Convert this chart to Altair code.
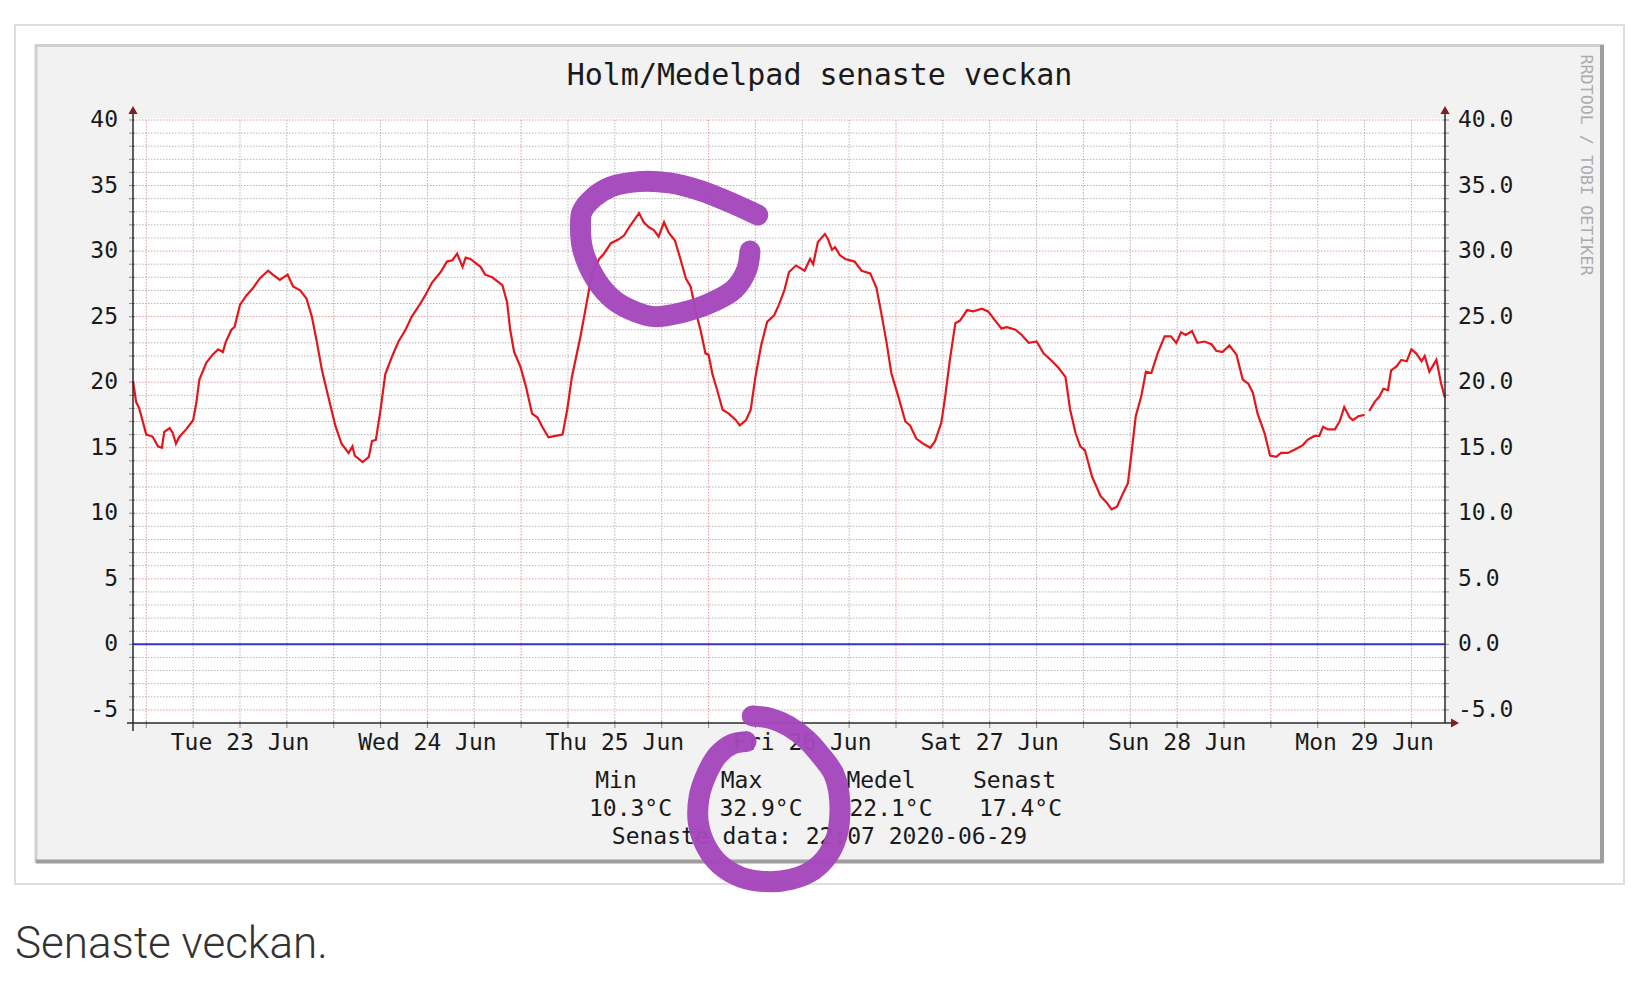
import altair as alt
import pandas as pd

# ---------------- data ----------------
TITLE = "Holm/Medelpad senaste veckan"
# hours counted from Tue 23 Jun 00:00; window Mon 22 Jun ~22:18 .. Mon 29 Jun ~22:18
T_START, T_END = -1.7, 166.3
Y_MIN, Y_MAX = -6, 40

HOURS = [
    -1.7, -1.3, -0.9, 0.0, 0.8, 1.5, 2.0, 2.3, 3.0, 3.4, 3.8, 4.2, 5.1, 6.0, 6.4, 6.8,
    7.7, 8.5, 9.2, 9.8, 10.2, 10.9, 11.3, 12.0, 12.8, 13.7, 14.5, 15.6, 16.2, 17.1, 18.1,
    18.8, 19.7, 20.5, 21.2, 21.8, 22.5, 23.1, 24.2, 25.0, 25.9, 26.4, 26.7, 27.7, 28.5,
    28.9, 29.4, 30.0, 30.6, 31.5, 32.3, 33.2, 34.0, 35.1, 35.7, 36.6, 37.7, 38.5, 39.2,
    39.8, 40.5, 40.9, 41.5, 42.8, 43.4, 44.3, 45.6, 46.2, 46.6, 47.1, 47.9, 48.6, 49.4,
    50.1, 50.7, 51.5, 52.4, 53.3, 53.9, 54.5, 55.6, 56.5, 57.1, 58.0, 58.6, 59.5, 60.5,
    61.2, 61.8, 62.4, 63.1, 63.7, 64.4, 65.0, 65.6, 66.3, 66.9, 67.7, 68.2, 69.1, 69.7,
    70.4, 71.0, 71.6, 72.0, 72.5, 73.1, 73.8, 74.6, 75.5, 76.0, 76.8, 77.4, 78.0, 78.7,
    79.5, 80.4, 81.0, 81.7, 82.3, 83.2, 84.3, 85.0, 85.4, 86.0, 86.9, 87.3, 87.8, 88.2,
    88.8, 89.5, 90.7, 91.6, 92.7, 93.5, 94.2, 94.8, 95.4, 96.3, 97.2, 97.8, 98.6, 99.5,
    100.4, 101.0, 101.8, 102.3, 102.9, 103.6, 104.2, 105.1, 105.9, 107.0, 107.8, 108.7,
    109.5, 110.2, 111.3, 112.1, 113.0, 114.0, 114.9, 116.0, 116.8, 117.7, 118.3, 119.0,
    119.6, 120.2, 121.1, 122.2, 123.0, 123.6, 124.3, 124.9, 125.7, 126.1, 126.7, 127.4,
    128.0, 128.7, 129.5, 130.4, 131.2, 131.9, 132.5, 133.1, 133.9, 134.6, 135.5, 136.4,
    137.0, 137.8, 138.7, 139.6, 140.4, 141.1, 141.7, 142.3, 143.2, 143.9, 144.7, 145.3,
    146.2, 147.2, 148.1, 148.7, 149.6, 150.2, 150.7, 151.3, 152.2, 152.8, 153.4, 154.1,
    154.5, 155.2, 156.0, 156.6, 157.3, 157.9, 158.4, 159.0, 159.4, 160.1, 160.7, 161.4,
    162.0, 162.6, 163.3, 163.7, 164.3, 165.2, 165.8, 166.3,
]
TEMPS = [
    20.1, 18.5, 18.0, 16.0, 15.85, 15.1, 15.0, 16.2, 16.5, 16.1, 15.3, 15.8, 16.4, 17.1, 18.4, 20.2,
    21.5, 22.1, 22.5, 22.3, 23.1, 24.0, 24.2, 25.9, 26.6, 27.2, 27.9, 28.5, 28.2, 27.8, 28.2,
    27.3, 27.0, 26.4, 25.0, 23.2, 20.9, 19.4, 16.7, 15.3, 14.6, 15.1, 14.4, 13.9, 14.3,
    15.5, 15.6, 17.9, 20.6, 22.0, 23.1, 24.0, 25.0, 26.0, 26.6, 27.6, 28.4, 29.2, 29.3,
    29.8, 28.8, 29.5, 29.4, 28.8, 28.2, 28.0, 27.4, 26.1, 24.0, 22.3, 21.2, 19.7, 17.6,
    17.3, 16.6, 15.8, 15.9, 16.0, 17.9, 20.4, 23.5, 26.4, 28.4, 29.4, 29.8, 30.6, 30.9,
    31.2, 31.8, 32.3, 32.9, 32.2, 31.8, 31.6, 31.1, 32.2, 31.4, 30.8, 29.8, 27.9, 27.3,
    25.3, 23.9, 22.2, 22.1, 20.6, 19.4, 17.9, 17.6, 17.1, 16.7, 17.1, 17.9, 20.4, 22.7,
    24.6, 25.1, 25.9, 27.0, 28.4, 28.9, 28.5, 29.4, 29.0, 30.7, 31.3, 30.9, 30.1, 30.3,
    29.7, 29.4, 29.2, 28.5, 28.3, 27.2, 25.0, 23.0, 20.7, 18.9, 17.0, 16.7, 15.7, 15.3,
    15.0, 15.5, 16.9, 18.9, 21.7, 24.5, 24.7, 25.5, 25.4, 25.6, 25.4, 24.7,
    24.1, 24.2, 24.0, 23.6, 23.0, 23.1, 22.2, 21.6, 21.1, 20.4, 17.9, 16.1,
    15.1, 14.8, 12.8, 11.3, 10.8, 10.3, 10.5, 11.3, 12.3, 14.3, 17.4, 18.9,
    20.8, 20.7, 22.2, 23.5, 23.5, 23.0, 23.8, 23.6, 23.9, 23.0, 23.1, 22.9,
    22.4, 22.3, 22.8, 22.1, 20.2, 19.9, 19.2, 17.6, 16.1, 14.4, 14.3, 14.6,
    14.6, 14.9, 15.2, 15.6, 15.9, 15.9, 16.6, 16.4, 16.4, 17.0, 18.1, 17.3,
    17.1, 17.4, 17.5, 17.8, 18.5, 18.9, 19.5, 19.4, 20.9, 21.2, 21.7, 21.6,
    22.5, 22.2, 21.6, 22.0, 20.8, 21.7, 19.9, 18.8,
]
GAP_AFTER_HOUR = 156.2   # short hole in the recorded series

DAY_LABELS = ["Tue 23 Jun", "Wed 24 Jun", "Thu 25 Jun", "Fri 26 Jun",
              "Sat 27 Jun", "Sun 28 Jun", "Mon 29 Jun"]
DAY_NOON_HOURS = [12, 36, 60, 84, 108, 132, 156]
Y_LABEL_VALUES = [-5, 0, 5, 10, 15, 20, 25, 30, 35, 40]

STAT_HEADERS = ["Min", "Max", "Medel", "Senast"]
STAT_VALUES = ["10.3°C", "32.9°C", "22.1°C", "17.4°C"]
LAST_DATA = "Senaste data: 22:07 2020-06-29"
CREDIT = "RRDTOOL / TOBI OETIKER"
CAPTION = "Senaste veckan."

# hand-drawn purple highlight strokes (in chart units: hour, °C)
MARK1_HOURS = [78.3, 75.2, 71.0, 67.0, 63.0, 59.5, 57.3, 55.8, 55.6, 55.9, 57.6, 59.8,
               62.5, 65.0, 68.5, 72.1, 75.3, 76.9, 77.3]
MARK1_TEMPS = [32.75, 33.6, 34.6, 35.2, 35.3, 34.9, 34.1, 33.0, 32.0, 30.1, 27.8, 26.3,
               25.4, 25.0, 25.3, 26.0, 27.1, 28.6, 30.0]
MARK2_HOURS = [77.6, 79.9, 82.2, 84.6, 86.5, 88.0, 88.7, 88.8, 88.4, 87.3, 85.4, 82.6,
               79.4, 76.2, 73.5, 71.7, 70.7, 70.8, 71.8, 73.2, 75.0, 76.8]
MARK2_TEMPS = [-5.47, -5.64, -6.22, -7.29, -8.57, -9.84, -11.36, -13.15, -14.67, -16.07,
               -17.21, -17.92, -18.1, -17.77, -16.83, -15.43, -13.65, -11.62, -9.84,
               -8.44, -7.62, -7.42]

# ---------------- layout / style ----------------
W, H = 1312, 603
MONO = "DejaVu Sans Mono"
INK = "#1a1a1a"
PURPLE = "#a447bb"

xs = alt.Scale(domain=[T_START, T_END], nice=False, zero=False)
ys = alt.Scale(domain=[Y_MIN, Y_MAX], nice=False, zero=False)


def X(f="t"):
    return alt.X(f, type="quantitative", scale=xs, axis=None)


def Y(f="v"):
    return alt.Y(f, type="quantitative", scale=ys, axis=None)


one = pd.DataFrame({"k": [0]})


def box(x1, x2, y1, y2, **kw):
    return alt.Chart(one).mark_rect(**kw).encode(
        x=alt.value(x1), x2=alt.value(x2), y=alt.value(y1), y2=alt.value(y2))


def seg(x1, x2, y1, y2, **kw):
    return alt.Chart(one).mark_rule(**kw).encode(
        x=alt.value(x1), x2=alt.value(x2), y=alt.value(y1), y2=alt.value(y2))


def txt(s, x, y, size=23, align="center", baseline="middle", color=INK, font=MONO, **kw):
    return alt.Chart(one).mark_text(text=s, font=font, fontSize=size, align=align,
                                    baseline=baseline, color=color, **kw).encode(
        x=alt.value(x), y=alt.value(y))


layers = []
# page frame and rrdtool canvas
layers.append(box(-118, 1491, -95, 764, fill="white", stroke="#dedede", strokeWidth=2))
layers.append(box(-97, 1469, -74.5, 741.5, fill="#f2f2f2", stroke="#cfcfcf", strokeWidth=3))
layers.append(seg(-97, 1470, 741.5, 741.5, color="#9e9e9e", strokeWidth=4))
layers.append(seg(1469, 1469, -75, 743, color="#9e9e9e", strokeWidth=4))
layers.append(box(0, W, -2, H, fill="white"))

# grid
minor_h = pd.DataFrame({"v": [v for v in range(Y_MIN + 1, Y_MAX) if v % 5 != 0]})
major_h = pd.DataFrame({"v": [v for v in range(Y_MIN + 1, Y_MAX + 1) if v % 5 == 0]})
minor_v = pd.DataFrame({"t": [h for h in range(0, 167, 6) if h % 24 != 0]})
major_v = pd.DataFrame({"t": [h for h in range(0, 167, 24)]})
GRID = dict(color="#b5b5b5", strokeWidth=1, strokeDash=[1.5, 1.5])
MGRID = dict(color="#e59a9a", strokeWidth=1, strokeDash=[1.5, 1.5])
layers.append(alt.Chart(minor_h).mark_rule(**GRID).encode(y=Y(), x=alt.value(0), x2=alt.value(W)))
layers.append(alt.Chart(minor_v).mark_rule(**GRID).encode(x=X(), y=alt.value(0), y2=alt.value(H)))
layers.append(alt.Chart(major_h).mark_rule(**MGRID).encode(y=Y(), x=alt.value(0), x2=alt.value(W)))
layers.append(alt.Chart(major_v).mark_rule(**MGRID).encode(x=X(), y=alt.value(0), y2=alt.value(H)))

# axis ticks
all_h = pd.DataFrame({"v": list(range(Y_MIN + 1, Y_MAX + 1))})
all_v = pd.DataFrame({"t": list(range(0, 167, 6))})
TICK = dict(color="#8a8a8a", strokeWidth=1)
layers.append(alt.Chart(all_h).mark_rule(**TICK).encode(y=Y(), x=alt.value(-4), x2=alt.value(2)))
layers.append(alt.Chart(all_h).mark_rule(**TICK).encode(y=Y(), x=alt.value(W - 2), x2=alt.value(W + 4)))
layers.append(alt.Chart(all_v).mark_rule(**TICK).encode(x=X(), y=alt.value(H - 2), y2=alt.value(H + 5)))

# zero line (HRULE) and temperature
layers.append(alt.Chart(pd.DataFrame({"v": [0]})).mark_rule(color="#3434d0", strokeWidth=2).encode(
    y=Y(), x=alt.value(0), x2=alt.value(W)))
temp = pd.DataFrame({"t": HOURS, "v": TEMPS})
temp["part"] = (temp["t"] > GAP_AFTER_HOUR).astype(int)
layers.append(alt.Chart(temp).mark_line(color="#e4161c", strokeWidth=2.2).encode(
    x=X(), y=Y(), detail="part:N"))

# axes with arrows
AX = dict(color="#2a2a2a", strokeWidth=1.5)
layers.append(seg(0, 0, -8, H + 8, **AX))
layers.append(seg(W, W, -8, H, **AX))
layers.append(seg(-6, W + 8, H, H, **AX))
ARROW = dict(filled=True, color="#7f1f1f", size=85, opacity=1, strokeWidth=0)
layers.append(alt.Chart(one).mark_point(shape="triangle-up", **ARROW).encode(x=alt.value(0), y=alt.value(-10)))
layers.append(alt.Chart(one).mark_point(shape="triangle-up", **ARROW).encode(x=alt.value(W), y=alt.value(-10)))
layers.append(alt.Chart(one).mark_point(shape="triangle-right", **ARROW).encode(x=alt.value(W + 10), y=alt.value(H)))

# tick labels
ylab = pd.DataFrame({"v": Y_LABEL_VALUES})
ylab["left"] = [str(v) for v in Y_LABEL_VALUES]
ylab["right"] = [f"{v:.1f}" for v in Y_LABEL_VALUES]
layers.append(alt.Chart(ylab).mark_text(font=MONO, fontSize=23, align="right", baseline="middle",
                                        color=INK).encode(y=Y(), x=alt.value(-15), text="left:N"))
layers.append(alt.Chart(ylab).mark_text(font=MONO, fontSize=23, align="left", baseline="middle",
                                        color=INK).encode(y=Y(), x=alt.value(W + 13), text="right:N"))
xlab = pd.DataFrame({"t": DAY_NOON_HOURS, "label": DAY_LABELS})
layers.append(alt.Chart(xlab).mark_text(font=MONO, fontSize=23, align="center", baseline="middle",
                                        color=INK).encode(x=X(), y=alt.value(623), text="label:N"))

# title, legend texts, credit, caption
layers.append(txt(TITLE, 686.5, -44.5, size=30))
HEAD_X = [483, 608.5, 748, 881.5]
VAL_X = [497.5, 628, 758, 887.5]
for s, x in zip(STAT_HEADERS, HEAD_X):
    layers.append(txt(s, x, 661))
for s, x in zip(STAT_VALUES, VAL_X):
    layers.append(txt(s, x, 689))
layers.append(txt(LAST_DATA, 686.5, 717))
layers.append(txt(CREDIT, 1453, 45, size=16.7, color="#ababab", angle=90))
layers.append(txt(CAPTION, -118, 838, size=44, align="left", baseline="alphabetic",
                  color="#333333", font="Roboto", fontWeight=300))

# purple hand-drawn highlights
for hrs, tmp in ((MARK1_HOURS, MARK1_TEMPS), (MARK2_HOURS, MARK2_TEMPS)):
    d = pd.DataFrame({"t": hrs, "v": tmp, "i": list(range(len(hrs)))})
    layers.append(alt.Chart(d).mark_line(color=PURPLE, strokeWidth=21, strokeCap="round",
                                         strokeJoin="round", interpolate="catmull-rom",
                                         opacity=0.97).encode(x=X(), y=Y(), order="i:Q"))

chart = alt.layer(*layers).properties(
    width=W, height=H,
    padding={"left": 125, "top": 112, "right": 188, "bottom": 260},
    autosize=alt.AutoSizeParams(type="none"),
    background="white",
).configure_view(stroke=None, fill=None)

chart.save("out.html", embed_options={"renderer": "svg", "actions": False})
